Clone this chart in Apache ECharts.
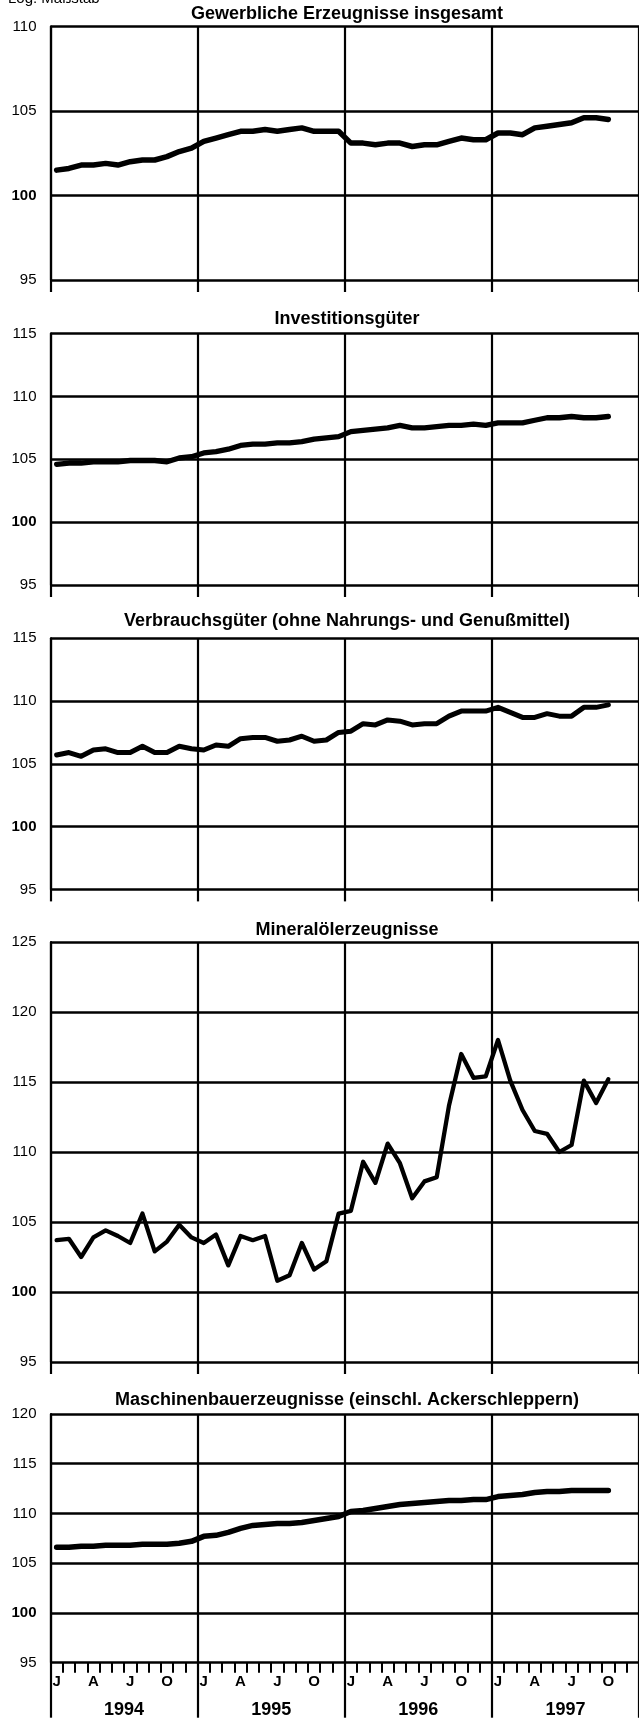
<!DOCTYPE html>
<html><head><meta charset="utf-8">
<script src="https://cdn.jsdelivr.net/npm/echarts@6/dist/echarts.min.js"></script>
<style>html,body{margin:0;padding:0;background:#fff}#c{width:639px;height:1721px}</style>
</head><body><div id="c"></div>
<script>
// ---- data ----
const years = ['1994', '1995', '1996', '1997'];
const monthLetters = ['J', 'F', 'M', 'A', 'M', 'J', 'J', 'A', 'S', 'O', 'N', 'D'];
const titles = [
  'Gewerbliche Erzeugnisse insgesamt',
  'Investitionsgüter',
  'Verbrauchsgüter (ohne Nahrungs- und Genußmittel)',
  'Mineralölerzeugnisse',
  'Maschinenbauerzeugnisse (einschl. Ackerschleppern)'
];
const yMins = [95, 95, 95, 95, 95];
const yMaxs = [110, 115, 115, 125, 120];
const gewerbliche = [101.5,101.6,101.8,101.8,101.9,101.8,102.0,102.1,102.1,102.3,102.6,102.8,
  103.2,103.4,103.6,103.8,103.8,103.9,103.8,103.9,104.0,103.8,103.8,103.8,
  103.1,103.1,103.0,103.1,103.1,102.9,103.0,103.0,103.2,103.4,103.3,103.3,
  103.7,103.7,103.6,104.0,104.1,104.2,104.3,104.6,104.6,104.5];
const investition = [104.6,104.7,104.7,104.8,104.8,104.8,104.9,104.9,104.9,104.8,105.1,105.2,
  105.5,105.6,105.8,106.1,106.2,106.2,106.3,106.3,106.4,106.6,106.7,106.8,
  107.2,107.3,107.4,107.5,107.7,107.5,107.5,107.6,107.7,107.7,107.8,107.7,
  107.9,107.9,107.9,108.1,108.3,108.3,108.4,108.3,108.3,108.4];
const verbrauch = [105.7,105.9,105.6,106.1,106.2,105.9,105.9,106.4,105.9,105.9,106.4,106.2,
  106.1,106.5,106.4,107.0,107.1,107.1,106.8,106.9,107.2,106.8,106.9,107.5,
  107.6,108.2,108.1,108.5,108.4,108.1,108.2,108.2,108.8,109.2,109.2,109.2,
  109.5,109.1,108.7,108.7,109.0,108.8,108.8,109.5,109.5,109.7];
const mineraloel = [103.7,103.8,102.5,103.9,104.4,104.0,103.5,105.6,102.9,103.6,104.8,103.9,
  103.5,104.1,101.9,104.0,103.7,104.0,100.8,101.2,103.5,101.6,102.2,105.6,
  105.8,109.3,107.8,110.6,109.2,106.7,107.9,108.2,113.3,117.0,115.3,115.4,
  118.0,115.1,113.0,111.5,111.3,110.0,110.5,115.1,113.5,115.2];
const maschinen = [106.6,106.6,106.7,106.7,106.8,106.8,106.8,106.9,106.9,106.9,107.0,107.2,
  107.7,107.8,108.1,108.5,108.8,108.9,109.0,109.0,109.1,109.3,109.5,109.7,
  110.2,110.3,110.5,110.7,110.9,111.0,111.1,111.2,111.3,111.3,111.4,111.4,
  111.7,111.8,111.9,112.1,112.2,112.2,112.3,112.3,112.3,112.3];
const seriesData = [gewerbliche, investition, verbrauch, mineraloel, maschinen];

// ---- build ----
const monthCats = [];
years.forEach(y => monthLetters.forEach((m, i) => monthCats.push(y + '-' + (i + 1))));

const FONT = '"Liberation Sans", Arial, sans-serif';
const layout = [
  { top: 26.5, height: 253.5, titleY: 14, lw: 5.5 },
  { top: 333.5, height: 251.5, titleY: 319.5, lw: 5.3 },
  { top: 638.3, height: 251.1, titleY: 621, lw: 5 },
  { top: 942, height: 420, titleY: 930, lw: 4.3 },
  { top: 1414, height: 248.7, titleY: 1400, lw: 5.5 }
];
const grids = [], xAxes = [], yAxes = [], series = [], graphics = [];
layout.forEach((L, k) => {
  const last = k === layout.length - 1;
  grids.push({ left: 50.5, right: -6, top: L.top, height: L.height, containLabel: false });
  // month axis (carries the series)
  xAxes.push({
    type: 'category', gridIndex: k, data: monthCats, boundaryGap: true, position: 'bottom',
    axisLine: { show: false },
    axisTick: { show: last, interval: 0, length: 10, lineStyle: { color: '#000', width: 2 } },
    axisLabel: {
      show: last, interval: (i) => i % 3 === 0, margin: 12,
      formatter: (v) => monthLetters[parseInt(v.split('-')[1], 10) - 1],
      fontFamily: FONT, fontWeight: 'bold', fontSize: 15, color: '#000'
    },
    splitLine: { show: false }
  });
  // year axis (vertical year lines, year labels)
  xAxes.push({
    type: 'category', gridIndex: k, data: years, boundaryGap: true, position: 'bottom',
    axisLine: { show: false },
    axisTick: { show: true, interval: 0, length: last ? 55 : 12, lineStyle: { color: '#000', width: 2.2 } },
    axisLabel: { show: last, interval: 0, margin: 38, fontFamily: FONT, fontWeight: 'bold', fontSize: 18, color: '#000' },
    splitLine: { show: true, interval: 0, lineStyle: { color: '#000', width: 2.2 } }
  });
  yAxes.push({
    type: 'value', gridIndex: k, min: yMins[k], max: yMaxs[k], interval: 5,
    axisLine: { show: true, lineStyle: { color: '#000', width: 2.2 } },
    axisTick: { show: false },
    axisLabel: {
      margin: 14, showMinLabel: true, showMaxLabel: true,
      formatter: (v) => v === 100 ? '{b|100}' : '{n|' + v + '}',
      rich: {
        b: { fontFamily: FONT, fontWeight: 'bold', fontSize: 15, color: '#000' },
        n: { fontFamily: FONT, fontSize: 15, color: '#000' }
      }
    },
    splitLine: { show: true, lineStyle: { color: '#000', width: 2.5 } }
  });
  series.push({
    type: 'line', xAxisIndex: 2 * k, yAxisIndex: k, data: seriesData[k],
    showSymbol: false, symbol: 'none', smooth: false,
    lineStyle: { color: '#000', width: L.lw, cap: 'round', join: 'round' },
    z: 5, animation: false
  });
  graphics.push({
    type: 'text', x: 347, y: L.titleY,
    style: { text: titles[k], font: 'bold 18px ' + FONT, fill: '#000', align: 'center', verticalAlign: 'middle' }
  });
});
graphics.push({
  type: 'text', x: 8, y: 6,
  style: { text: 'Log. Maßstab', font: '15px ' + FONT, fill: '#000', align: 'left', verticalAlign: 'bottom' }
});

const chart = echarts.init(document.getElementById('c'), null, { renderer: 'canvas' });
chart.setOption({
  backgroundColor: '#fff', animation: false,
  grid: grids, xAxis: xAxes, yAxis: yAxes, series: series, graphic: graphics
});
</script>
</body></html>
